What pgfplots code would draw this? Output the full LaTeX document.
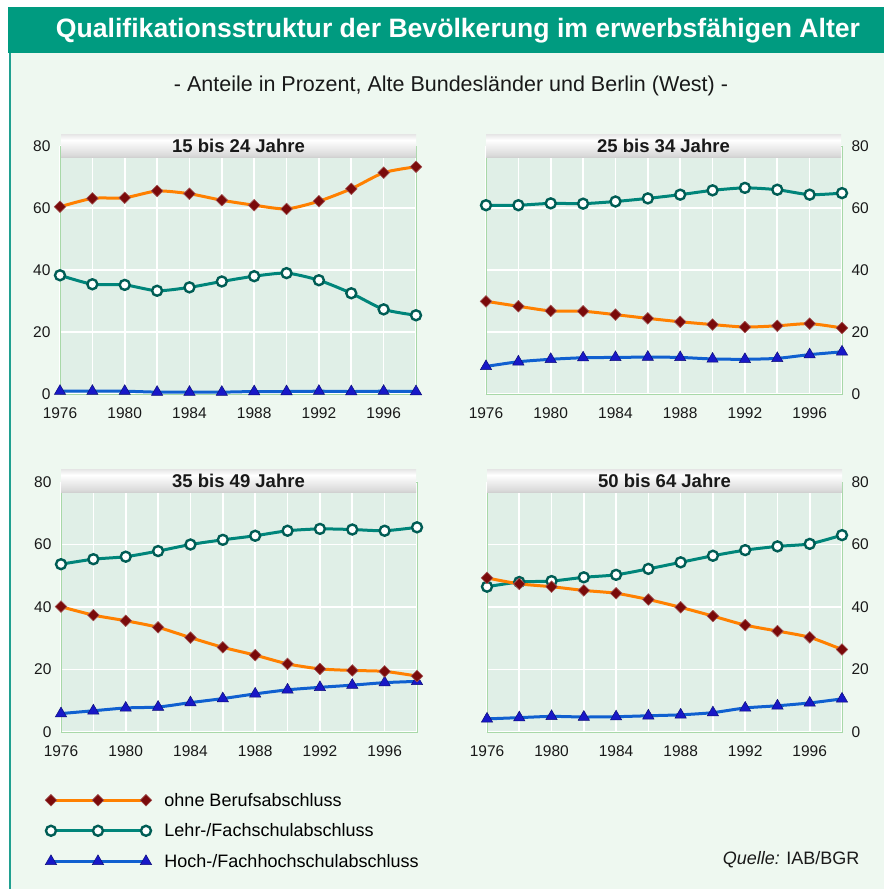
\documentclass[border=0pt]{standalone}
\usepackage{fontspec}
\setmainfont{Liberation Sans}
\usepackage{pgfplots}
\pgfplotsset{compat=1.18}
\usepackage{pgfplotstable}

\definecolor{titlegreen}{HTML}{009B80}
\definecolor{bggreen}{HTML}{EEF8F0}
\definecolor{plotbg}{HTML}{E0EFE7}
\definecolor{axisgreen}{HTML}{A8D8A8}
\definecolor{leftline}{HTML}{20A090}
\definecolor{cOrange}{HTML}{FF8000}
\definecolor{cDiamond}{HTML}{7A0A0A}
\definecolor{cTeal}{HTML}{00857A}
\definecolor{cBlue}{HTML}{1060D0}
\definecolor{cTri}{HTML}{1818C8}

\pgfplotstableread{
year ohne lehr hoch
1976 60.4 38.3 0.9
1978 63.1 35.4 0.9
1980 63.3 35.2 0.9
1982 65.5 33.3 0.6
1984 64.6 34.4 0.6
1986 62.5 36.3 0.6
1988 60.9 38.0 0.8
1990 59.7 39.0 0.8
1992 62.2 36.7 0.9
1994 66.2 32.5 0.8
1996 71.4 27.3 0.9
1998 73.3 25.4 0.8
}\tabA
\pgfplotstableread{
year ohne lehr hoch
1976 29.9 60.9 8.9
1978 28.3 60.9 10.4
1980 26.8 61.5 11.2
1982 26.7 61.4 11.7
1984 25.6 62.1 11.8
1986 24.4 63.1 11.9
1988 23.3 64.3 11.8
1990 22.4 65.7 11.3
1992 21.6 66.5 11.2
1994 22.0 65.9 11.5
1996 22.7 64.3 12.7
1998 21.3 64.8 13.6
}\tabB
\pgfplotstableread{
year ohne lehr hoch
1976 40.1 53.7 5.9
1978 37.4 55.3 6.8
1980 35.6 56.1 7.7
1982 33.5 57.9 8.0
1984 30.2 60.0 9.4
1986 27.1 61.5 10.7
1988 24.6 62.8 12.2
1990 21.8 64.4 13.5
1992 20.2 65.0 14.3
1994 19.7 64.8 15.0
1996 19.4 64.4 15.8
1998 17.9 65.5 16.2
}\tabC
\pgfplotstableread{
year ohne lehr hoch
1976 49.3 46.5 4.2
1978 47.4 48.0 4.6
1980 46.5 48.3 5.0
1982 45.3 49.5 4.8
1984 44.4 50.3 4.9
1986 42.4 52.2 5.2
1988 39.9 54.3 5.5
1990 37.1 56.4 6.2
1992 34.2 58.2 7.7
1994 32.3 59.4 8.4
1996 30.3 60.2 9.3
1998 26.4 63.0 10.6
}\tabD

\pgfdeclareverticalshading{hdr}{100bp}{color(0bp)=(black!38); color(30bp)=(black!14); color(62bp)=(white); color(100bp)=(black!30)}

\pgfplotsset{
 panel/.style={
  scale only axis, width=356pt, height=248pt,
  xmin=1976, xmax=1998, ymin=0, ymax=80,
  xtick={1976,1978,...,1998},
  xticklabels={1976,,1980,,1984,,1988,,1992,,1996,},
  ytick={0,20,40,60,80}, yticklabels={0,20,40,60,80},
  major tick length=0pt,
  grid=major, grid style={white, line width=1.6pt},
  axis background/.style={fill=plotbg},
  axis line style={axisgreen, line width=0.8pt},
  tick label style={font=\fontsize{15.5}{18}\selectfont, text=black!90},
  xticklabel style={yshift=-10pt},
  yticklabel style={xshift=-6pt},
  clip=false,
 },
 rightpanel/.style={yticklabel pos=right, yticklabel style={xshift=12pt}},
 ohne/.style={cOrange, line width=3pt, smooth, tension=0.4, mark=square*, mark size=4.1pt,
   mark options={solid, rotate=45, fill=cDiamond, draw=cDiamond!70!white, line width=0.6pt}},
 lehr/.style={cTeal, line width=3pt, smooth, tension=0.4, mark=*, mark size=5pt,
   mark options={solid, fill=white, draw=cTeal!70!black, line width=2.4pt}},
 hoch/.style={cBlue, line width=3pt, smooth, tension=0.4, mark=triangle*, mark size=6.5pt,
   mark options={solid, fill=cTri, draw=cTri!60!black, line width=0.5pt}},
}

\begin{document}
\begin{tikzpicture}
\path[use as bounding box] (0pt,0pt) rectangle (884pt,-889pt);
\fill[white] (0pt,0pt) rectangle (884pt,-889pt);
\fill[bggreen] (11pt,-53pt) rectangle (884pt,-889pt);
\fill[leftline] (9pt,-53pt) rectangle (11pt,-889pt);
\fill[titlegreen] (8pt,-7pt) rectangle (884pt,-53pt);
\node[text=white, font=\fontsize{26.6}{30}\selectfont\bfseries] at (458pt,-31pt)
  {Qualifikationsstruktur der Bevölkerung im erwerbsfähigen Alter};
\node[text=black!90, font=\fontsize{21.5}{25}\selectfont] at (451pt,-86pt)
  {- Anteile in Prozent, Alte Bundesländer und Berlin (West) -};

\begin{axis}[panel, at={(60pt,-394pt)}, anchor=south west]
\addplot[hoch] table[x=year,y=hoch] {\tabA};
\addplot[lehr] table[x=year,y=lehr] {\tabA};
\addplot[ohne] table[x=year,y=ohne] {\tabA};
\end{axis}

\begin{axis}[panel, rightpanel, at={(486pt,-394pt)}, anchor=south west]
\addplot[hoch] table[x=year,y=hoch] {\tabB};
\addplot[lehr] table[x=year,y=lehr] {\tabB};
\addplot[ohne] table[x=year,y=ohne] {\tabB};
\end{axis}

\begin{axis}[panel, at={(61pt,-732pt)}, anchor=south west, height=250pt,
  reverse legend,
  legend style={draw=none, fill=none, at={(-0.045,-0.235)}, anchor=north west,
    font=\fontsize{18}{21}\selectfont, row sep=12pt, inner sep=0pt},
  legend cell align=left,
  legend image code/.code={\draw[#1] plot coordinates {(0pt,0pt) (47pt,0pt) (95pt,0pt)};
     \path (0pt,0pt) (110pt,0pt);}]
\addplot[hoch] table[x=year,y=hoch] {\tabC};
\addlegendentry{Hoch-/Fachhochschulabschluss}
\addplot[lehr] table[x=year,y=lehr] {\tabC};
\addlegendentry{Lehr-/Fachschulabschluss}
\addplot[ohne] table[x=year,y=ohne] {\tabC};
\addlegendentry{ohne Berufsabschluss}
\end{axis}

\begin{axis}[panel, rightpanel, at={(487pt,-732pt)}, anchor=south west, height=250pt, width=355pt]
\addplot[hoch] table[x=year,y=hoch] {\tabD};
\addplot[lehr] table[x=year,y=lehr] {\tabD};
\addplot[ohne] table[x=year,y=ohne] {\tabD};
\end{axis}

\foreach \x/\y/\t in {61/134/15 bis 24 Jahre, 486/134/25 bis 34 Jahre, 61/469/35 bis 49 Jahre, 487/469/50 bis 64 Jahre}{
  \shade[shading=hdr] (\x pt,-\y pt) rectangle ++(355pt,-23pt);
  \node[font=\fontsize{18.5}{21}\selectfont\bfseries, text=black!90] at (\x pt+177.5pt,-\y pt-11.5pt) {\t};
}

\node[anchor=east, text=black!90, font=\fontsize{18}{21}\selectfont] at (863pt,-860pt) {\textit{Quelle:} IAB/BGR};
\end{tikzpicture}
\end{document}
